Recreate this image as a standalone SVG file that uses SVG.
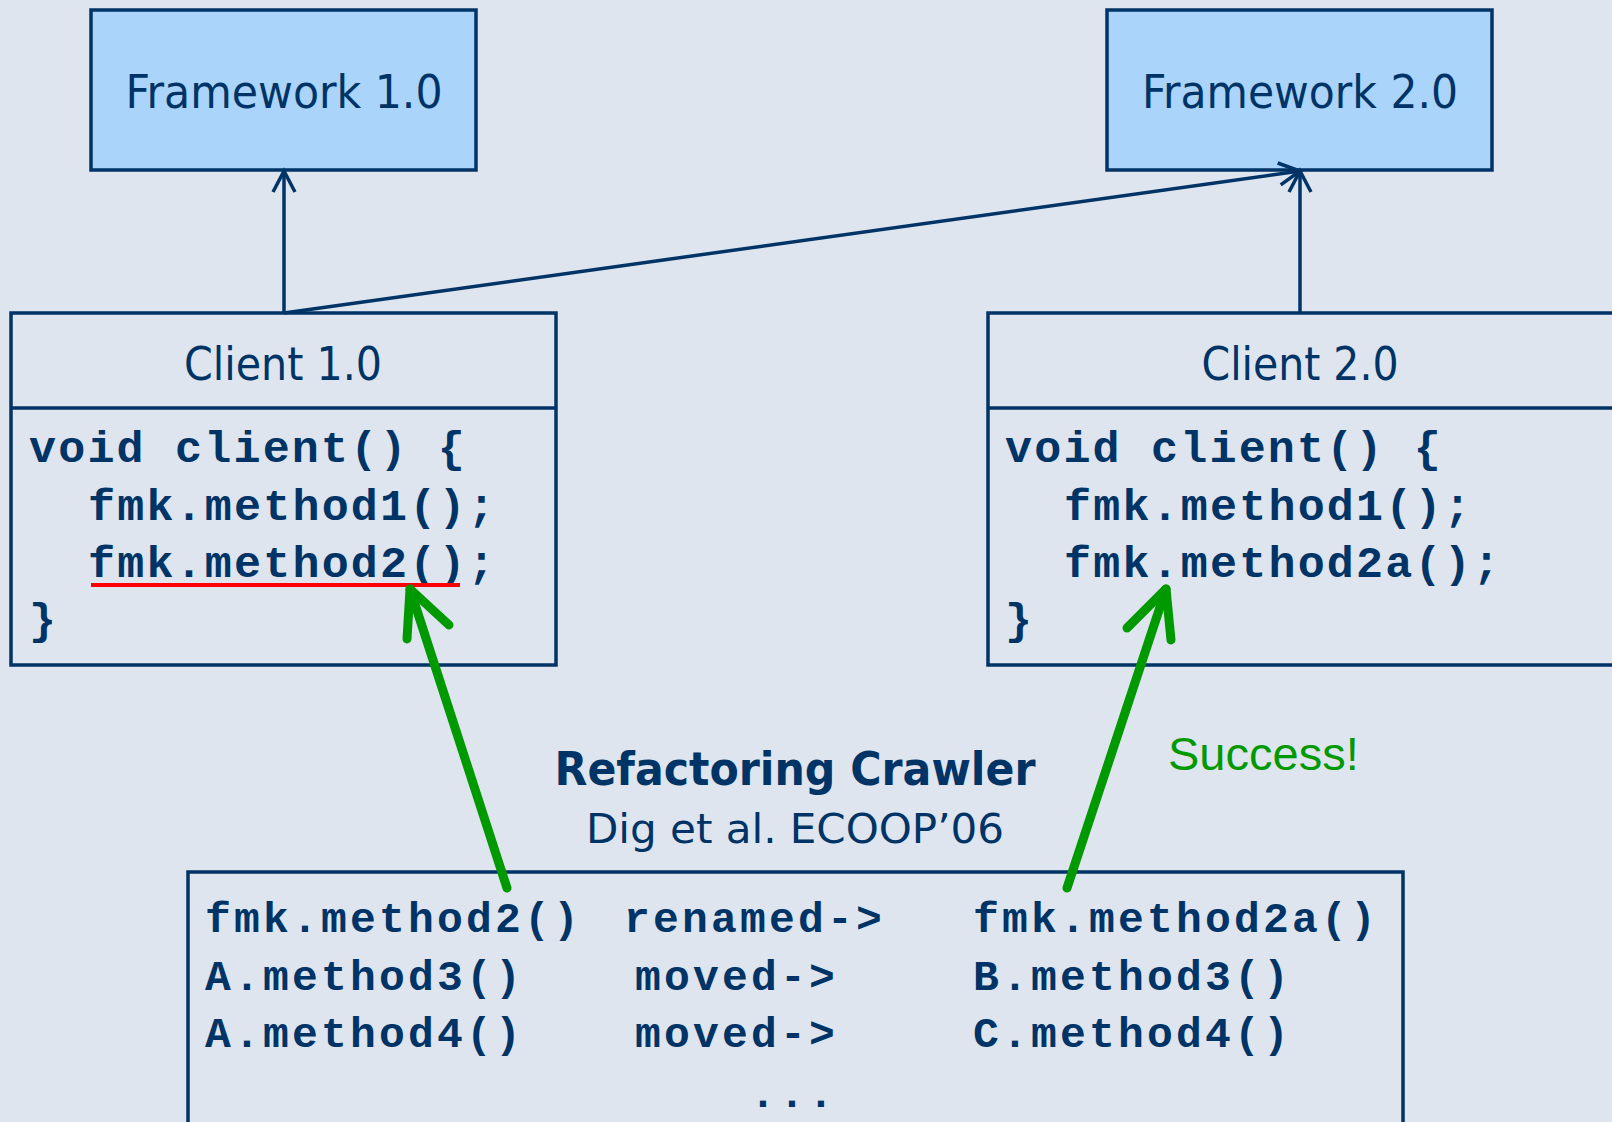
<svg xmlns="http://www.w3.org/2000/svg" width="1612" height="1122" viewBox="0 0 1612 1122">
<style>
.box{fill:none;stroke:#003366;stroke-width:3.5}
.fw{fill:#AAD4FA;stroke:#003366;stroke-width:3.5}
.lbl{font-family:"DejaVu Sans Condensed","DejaVu Sans",sans-serif;font-size:47px;fill:#003366;text-anchor:middle}
.code{font-family:"Liberation Mono",monospace;font-weight:bold;font-size:45px;letter-spacing:2.2px;fill:#003366}
.tbl{font-family:"Liberation Mono",monospace;font-weight:bold;font-size:43px;letter-spacing:3.2px;fill:#003366}
.conn{fill:none;stroke:#003366;stroke-width:3.5}
.green{fill:none;stroke:#009900;stroke-width:9;stroke-linecap:round;stroke-linejoin:round}
</style>
<defs>
<marker id="open" markerUnits="userSpaceOnUse" markerWidth="30" markerHeight="30" refX="0" refY="0" orient="auto" overflow="visible">
<path d="M-21,-11 L0,0 L-21,11" fill="none" stroke="#003366" stroke-width="3.5"/>
</marker>
</defs>
<rect x="0" y="0" width="1612" height="1122" fill="#DEE5EE"/>

<g id="framework1">
<rect class="fw" x="91" y="10" width="385" height="160"/>
<text class="lbl" x="284" y="108" textLength="317" lengthAdjust="spacingAndGlyphs">Framework 1.0</text>
</g>
<g id="framework2">
<rect class="fw" x="1107" y="10" width="385" height="160"/>
<text class="lbl" x="1300" y="108" textLength="316" lengthAdjust="spacingAndGlyphs">Framework 2.0</text>
</g>

<g id="client1">
<rect class="box" x="11" y="313" width="545" height="352"/>
<line class="box" x1="11" y1="408" x2="556" y2="408"/>
<text class="lbl" x="283" y="380" textLength="198" lengthAdjust="spacingAndGlyphs">Client 1.0</text>
<text class="code" x="29" y="462">void client() {</text>
<text class="code" x="88" y="520">fmk.method1();</text>
<text class="code" x="88" y="577">fmk.method2();</text>
<text class="code" x="29" y="634">}</text>
<line x1="91" y1="585" x2="460" y2="585" stroke="#FF0000" stroke-width="4"/>
</g>

<g id="client2">
<rect class="box" x="988" y="313" width="640" height="352"/>
<line class="box" x1="988" y1="408" x2="1612" y2="408"/>
<text class="lbl" x="1300" y="380" textLength="197" lengthAdjust="spacingAndGlyphs">Client 2.0</text>
<text class="code" x="1005" y="462">void client() {</text>
<text class="code" x="1064" y="520">fmk.method1();</text>
<text class="code" x="1064" y="577">fmk.method2a();</text>
<text class="code" x="1005" y="634">}</text>
</g>

<g id="crawler">
<text x="795" y="785" text-anchor="middle" font-family="DejaVu Sans Condensed,DejaVu Sans,sans-serif" font-weight="bold" font-size="46" fill="#003366" textLength="481" lengthAdjust="spacingAndGlyphs">Refactoring Crawler</text>
<text x="795" y="843" text-anchor="middle" font-family="DejaVu Sans Condensed,DejaVu Sans,sans-serif" font-size="40" fill="#003366" textLength="418" lengthAdjust="spacingAndGlyphs">Dig et al. ECOOP’06</text>
</g>

<g id="success">
<text x="1168" y="770" font-family="Liberation Sans,Arial,sans-serif" font-size="47" fill="#009900">Success!</text>
</g>

<g id="refactorings">
<rect class="box" x="188" y="872" width="1215" height="300"/>
<text class="tbl" x="205" y="932">fmk.method2()</text>
<text class="tbl" x="624" y="932">renamed-&gt;</text>
<text class="tbl" x="973" y="932">fmk.method2a()</text>
<text class="tbl" x="205" y="990">A.method3()</text>
<text class="tbl" x="635" y="990">moved-&gt;</text>
<text class="tbl" x="973" y="990">B.method3()</text>
<text class="tbl" x="205" y="1047">A.method4()</text>
<text class="tbl" x="635" y="1047">moved-&gt;</text>
<text class="tbl" x="973" y="1047">C.method4()</text>
<text class="tbl" x="750" y="1107">...</text>
</g>

<g id="connectors">
<line class="conn" x1="284" y1="313" x2="284" y2="171" marker-end="url(#open)"/>
<line class="conn" x1="284" y1="313" x2="1300" y2="171" marker-end="url(#open)"/>
<line class="conn" x1="1300" y1="313" x2="1300" y2="171" marker-end="url(#open)"/>
<line class="green" x1="507" y1="888" x2="410" y2="589"/>
<polyline class="green" points="407,639 410,589 449,625"/>
<line class="green" x1="1067" y1="888" x2="1166" y2="589"/>
<polyline class="green" points="1127,628 1166,589 1171,640"/>
</g>
</svg>
